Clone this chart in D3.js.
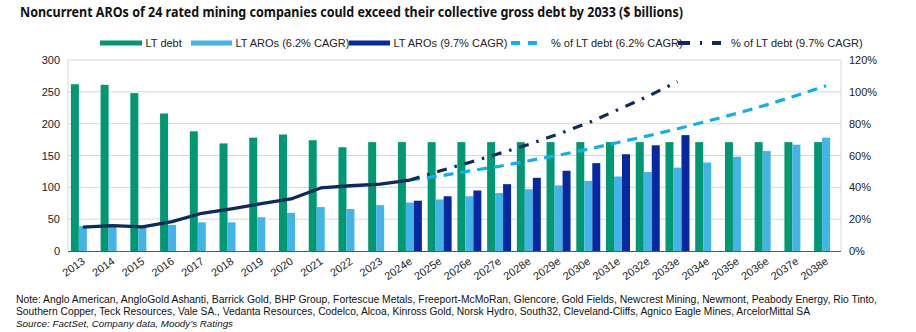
<!DOCTYPE html>
<html>
<head>
<meta charset="utf-8">
<script src="https://cdn.jsdelivr.net/npm/d3@7"></script>
<style>
  body { margin: 0; background: #fff; }
  svg { display: block; }
  .tick text { font-family: "Liberation Sans", Arial, sans-serif; font-size: 11px; fill: #222; }
</style>
</head>
<body>
<svg width="916" height="332"></svg>
<script>
let years = ['2013', '2014', '2015', '2016', '2017', '2018', '2019', '2020', '2021', '2022', '2023',
    '2024e', '2025e', '2026e', '2027e', '2028e', '2029e', '2030e', '2031e', '2032e', '2033e',
    '2034e', '2035e', '2036e', '2037e', '2038e'];

// $ billions
let ltDebt = [262, 261, 248, 216, 188, 169, 178, 183, 174, 163, 171,
    171, 171, 171, 171, 171, 171, 171, 171, 171, 171, 171, 171, 171, 171, 171];
let aro62 = [39, 39, 38, 41, 45, 45, 53, 60, 69, 66, 72,
    76, 81, 86, 91, 97, 103, 110, 117, 124, 131, 139, 148, 157, 167, 178];
let aro97 = [null, null, null, null, null, null, null, null, null, null, null,
    79, 86, 95, 105, 115, 126, 138, 152, 166, 182];

// % of LT debt
let pctHist = [15, 16, 15.2, 18.5, 23.7, 26.5, 29.7, 32.7, 39.6, 41, 42, 44.6];
let pct62 = [44.6, 47.1, 50.3, 53.2, 56.7, 60.2, 64, 68.2, 72.3, 76.8, 81.5, 86.5, 91.8, 97.7, 103.8];
let pct97 = [44.6, 50.3, 55.6, 61.2, 67, 73.5, 80.5, 88.8, 97.1, 106.4];

let leftTicks = [0, 50, 100, 150, 200, 250, 300];
let rightTicks = [0, 20, 40, 60, 80, 100, 120];

let noteLines = [
    'Note: Anglo American, AngloGold Ashanti, Barrick Gold, BHP Group, Fortescue Metals, Freeport-McMoRan, Glencore, Gold Fields, Newcrest Mining, Newmont, Peabody Energy, Rio Tinto,',
    'Southern Copper, Teck Resources, Vale SA., Vedanta Resources, Codelco, Alcoa, Kinross Gold, Norsk Hydro, South32, Cleveland-Cliffs, Agnico Eagle Mines, ArcelorMittal SA'
];
let sourceLine = 'Source: FactSet, Company data, Moody\u2019s Ratings';

let svg = d3.select('svg');
let plotLeft = 68, plotRight = 841, plotTop = 60, plotBottom = 251;

let x = d3.scaleBand().domain(years).range([plotLeft, plotRight]);
let sub = d3.scaleBand().domain(['debt', 'a62', 'a97']).range([0, x.bandwidth()]).paddingOuter(0.36);
let y = d3.scaleLinear().domain([0, 300]).range([plotBottom, plotTop]);
let y2 = d3.scaleLinear().domain([0, 120]).range([plotBottom, plotTop]);

let green = '#009872', lightBlue = '#44b3e6', darkBlue = '#0628a0',
    navy = '#0b2b5c', dashBlue = '#0fb0ef';

// shrink font until the text's own width matches the target width
function fitText(sel, width, maxSize) {
    sel.style('font-size', maxSize + 'px');
    let w = sel.node().getComputedTextLength();
    let size = Math.max(8, Math.min(maxSize, maxSize * width / w));
    sel.style('font-size', size.toFixed(2) + 'px')
        .attr('textLength', width).attr('lengthAdjust', 'spacingAndGlyphs');
}

// title
svg.append('text')
    .attr('x', 20).attr('y', 17)
    .attr('textLength', 663).attr('lengthAdjust', 'spacingAndGlyphs')
    .style('font-family', '"Noto Sans", sans-serif')
    .style('font-size', '13.5px').style('font-weight', 'bold').style('fill', '#111')
    .text('Noncurrent AROs of 24 rated mining companies could exceed their collective gross debt by 2033 ($ billions)');

// grid
svg.append('g').selectAll('line')
    .data(leftTicks.slice(1))
    .enter().append('line')
    .attr('x1', plotLeft).attr('x2', plotRight)
    .attr('y1', d => y(d)).attr('y2', d => y(d))
    .attr('stroke', '#d9d9d9').attr('stroke-width', 1);

svg.append('line').attr('x1', plotLeft).attr('x2', plotLeft).attr('y1', plotTop).attr('y2', plotBottom)
    .attr('stroke', '#d9d9d9');
svg.append('line').attr('x1', plotRight).attr('x2', plotRight).attr('y1', plotTop).attr('y2', plotBottom)
    .attr('stroke', '#d9d9d9');

// bars
function bars(values, key, color) {
    svg.append('g').selectAll('rect')
        .data(values.map((v, i) => ({year: years[i], v: v})).filter(d => d.v != null))
        .enter().append('rect')
        .attr('x', d => x(d.year) + sub(key))
        .attr('width', sub.bandwidth())
        .attr('y', d => y(d.v))
        .attr('height', d => plotBottom - y(d.v))
        .attr('fill', color);
}
bars(ltDebt, 'debt', green);
bars(aro62, 'a62', lightBlue);
bars(aro97, 'a97', darkBlue);

// baseline
svg.append('line').attr('x1', plotLeft).attr('x2', plotRight).attr('y1', plotBottom + 0.5).attr('y2', plotBottom + 0.5)
    .attr('stroke', '#595959').attr('stroke-width', 1.2);

// lines
let cx = yr => x(yr) + x.bandwidth() / 2;
let line = d3.line().x(d => cx(d.year)).y(d => y2(d.v));

svg.append('path')
    .datum(pctHist.map((v, i) => ({year: years[i], v: v})))
    .attr('d', line).attr('fill', 'none')
    .attr('stroke', navy).attr('stroke-width', 3.3).attr('stroke-linejoin', 'round');

svg.append('path')
    .datum(pct62.map((v, i) => ({year: years[i + 11], v: v})))
    .attr('d', line).attr('fill', 'none')
    .attr('stroke', dashBlue).attr('stroke-width', 3.2)
    .attr('stroke-dasharray', '10,7');

svg.append('path')
    .datum(pct97.map((v, i) => ({year: years[i + 11], v: v})))
    .attr('d', line).attr('fill', 'none')
    .attr('stroke', navy).attr('stroke-width', 3.2)
    .attr('stroke-dasharray', '10,8,2.5,8');

// axes
let yAxis = svg.append('g')
    .attr('transform', `translate(${plotLeft},0)`)
    .call(d3.axisLeft(y).tickValues(leftTicks).tickSize(0).tickPadding(8));
yAxis.select('.domain').remove();

let y2Axis = svg.append('g')
    .attr('transform', `translate(${plotRight},0)`)
    .call(d3.axisRight(y2).tickValues(rightTicks).tickSize(0).tickPadding(8).tickFormat(d => d + '%'));
y2Axis.select('.domain').remove();

let xAxis = svg.append('g')
    .attr('transform', `translate(0,${plotBottom})`)
    .call(d3.axisBottom(x).tickSize(0).tickPadding(0));
xAxis.select('.domain').remove();
xAxis.selectAll('text')
    .attr('text-anchor', 'end')
    .attr('dy', 0)
    .attr('transform', 'translate(3,12) rotate(-35)');

// legend
let legend = [
    {label: 'LT debt', x: 100, w: 42, type: 'bar', color: green},
    {label: 'LT AROs (6.2% CAGR)', x: 191, w: 41, type: 'bar', color: lightBlue},
    {label: 'LT AROs (9.7% CAGR)', x: 349, w: 41, type: 'bar', color: darkBlue},
    {label: '% of LT debt (6.2% CAGR)', x: 511, w: 30, type: 'dash', color: dashBlue},
    {label: '% of LT debt (9.7% CAGR)', x: 678, w: 43, type: 'dashdot', color: navy}
];
let lg = svg.append('g').selectAll('g').data(legend).enter().append('g');
lg.filter(d => d.type === 'bar').append('rect')
    .attr('x', d => d.x).attr('y', 40.5).attr('width', d => d.w).attr('height', 5)
    .attr('fill', d => d.color);
lg.filter(d => d.type !== 'bar').append('line')
    .attr('x1', d => d.x).attr('x2', d => d.x + d.w).attr('y1', 43).attr('y2', 43)
    .attr('stroke', d => d.color).attr('stroke-width', 4)
    .attr('stroke-dasharray', d => d.type === 'dash' ? '9,8' : '12,10,2,10');
lg.append('text')
    .attr('x', d => d.x + (d.type === 'bar' ? d.w + 3.5 : d.w + 10))
    .attr('y', 47)
    .style('font-family', '"Liberation Sans", Arial, sans-serif')
    .style('font-size', '11px').style('fill', '#222')
    .text(d => d.label);

// notes
let noteFont = '"Liberation Sans Narrow", "Liberation Sans", Arial, sans-serif';
let noteWidths = [861, 794];
noteLines.forEach((t, i) => {
    let el = svg.append('text')
        .attr('x', 16).attr('y', 302.5 + i * 12)
        .style('font-family', noteFont).style('fill', '#111')
        .text(t);
    fitText(el, noteWidths[i], 11.5);
});

let src = svg.append('text')
    .attr('x', 16).attr('y', 326.5)
    .style('font-family', noteFont)
    .style('font-style', 'italic').style('fill', '#111')
    .text(sourceLine);
fitText(src, 217, 11.5);
</script>
</body>
</html>
